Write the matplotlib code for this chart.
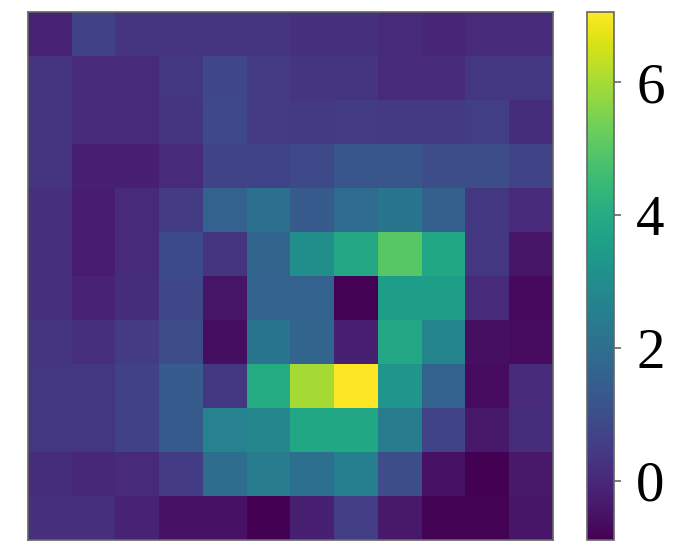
import numpy as np
import matplotlib
matplotlib.use("Agg")
import matplotlib.pyplot as plt

row_00 = [-0.10, 0.65, 0.30, 0.35, 0.35, 0.30, 0.25, 0.25, 0.05, -0.05, 0.10, 0.10]
row_01 = [0.30, 0.10, 0.10, 0.40, 0.80, 0.50, 0.30, 0.30, 0.10, 0.10, 0.40, 0.40]
row_02 = [0.35, 0.05, 0.05, 0.35, 0.85, 0.50, 0.45, 0.50, 0.45, 0.45, 0.60, 0.15]
row_03 = [0.30, -0.20, -0.20, 0.10, 0.70, 0.70, 0.85, 1.25, 1.25, 1.00, 1.00, 0.75]
row_04 = [0.20, -0.25, 0.05, 0.50, 1.60, 2.00, 1.40, 1.90, 2.20, 1.55, 0.40, 0.10]
row_05 = [0.20, -0.25, 0.10, 0.90, 0.30, 1.70, 3.05, 3.90, 5.00, 3.85, 0.40, -0.45]
row_06 = [0.20, -0.10, 0.15, 0.80, -0.45, 1.60, 1.60, -0.85, 3.55, 3.55, 0.10, -0.70]
row_07 = [0.30, 0.20, 0.50, 0.95, -0.60, 2.20, 1.70, -0.20, 3.90, 2.70, -0.55, -0.65]
row_08 = [0.40, 0.40, 0.65, 1.40, 0.40, 4.00, 6.00, 7.06, 3.25, 1.60, -0.65, 0.05]
row_09 = [0.40, 0.40, 0.65, 1.35, 2.65, 2.80, 3.85, 3.85, 2.45, 0.70, -0.35, 0.15]
row_10 = [0.15, 0.00, 0.05, 0.50, 1.95, 2.45, 2.00, 2.55, 1.00, -0.50, -0.89, -0.35]
row_11 = [0.20, 0.20, -0.10, -0.50, -0.50, -0.89, -0.20, 0.55, -0.35, -0.85, -0.85, -0.40]

grid = np.array([row_00, row_01, row_02, row_03, row_04, row_05,
                 row_06, row_07, row_08, row_09, row_10, row_11])
cbar_ticks = [0, 2, 4, 6]

plt.rcParams['font.family'] = ['Liberation Serif', 'DejaVu Serif']

fig = plt.figure(figsize=(7, 5.5), dpi=100)
ax = fig.add_axes([28 / 700, 1 - 540 / 550, 525 / 700, 528 / 550])
cax = fig.add_axes([587 / 700, 1 - 540 / 550, 27 / 700, 528 / 550])

im = ax.imshow(grid, cmap='viridis', vmin=-0.89, vmax=7.06,
               aspect='auto', interpolation='nearest')
ax.set_xticks([])
ax.set_yticks([])
for spine in ax.spines.values():
    spine.set_color('#666666')
    spine.set_linewidth(1.2)

cbar = fig.colorbar(im, cax=cax)
cbar.set_ticks(cbar_ticks)
cbar.ax.tick_params(labelsize=41, length=5, width=1.2, color='#666666', pad=11)
cbar.outline.set_edgecolor('#666666')
cbar.outline.set_linewidth(1.2)

fig.savefig('out.png', dpi=100)
